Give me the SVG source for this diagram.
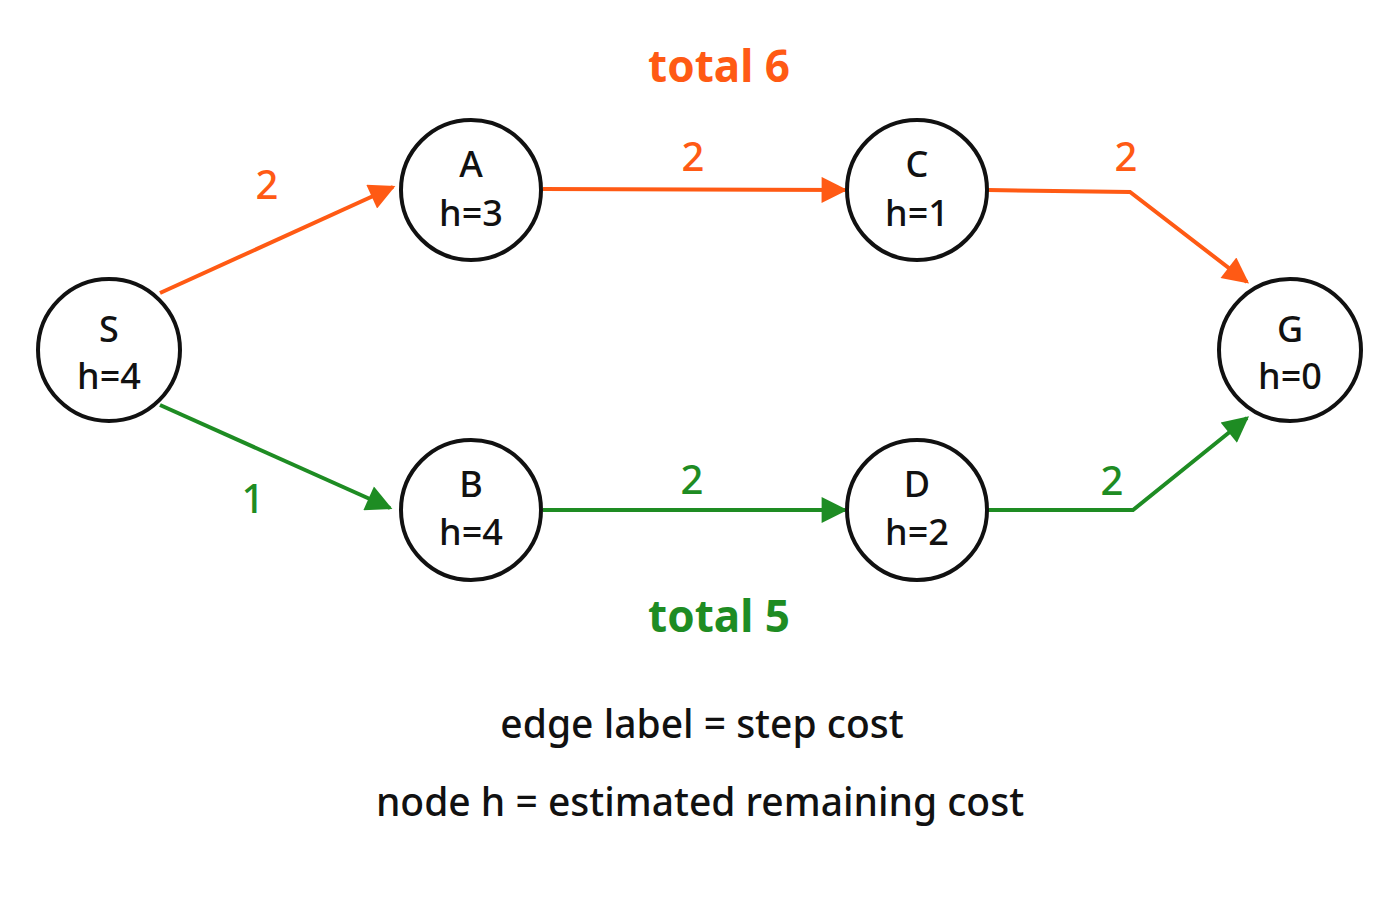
<svg xmlns="http://www.w3.org/2000/svg" width="1400" height="900" viewBox="0 0 1400 900">
<style>
text{font-family:"Noto Sans","DejaVu Sans",sans-serif;text-anchor:middle;font-weight:500}
.n circle{fill:#fff;stroke:#111;stroke-width:4}
.n text{font-size:36px;fill:#111}
.o{stroke:#FF5A14;fill:none;stroke-width:4}
.g{stroke:#1E8C23;fill:none;stroke-width:4}
.lo{fill:#FF5A14;font-size:40px}
.lg{fill:#1E8C23;font-size:40px}
.k{fill:#111;font-size:39px}
</style>
<defs>
<marker id="ao" viewBox="0 0 10 10" refX="9" refY="5" markerWidth="32" markerHeight="26" markerUnits="userSpaceOnUse" orient="auto"><path d="M0,0L10,5L0,10z" fill="#FF5A14"/></marker>
<marker id="ag" viewBox="0 0 10 10" refX="9" refY="5" markerWidth="32" markerHeight="26" markerUnits="userSpaceOnUse" orient="auto"><path d="M0,0L10,5L0,10z" fill="#1E8C23"/></marker>
</defs>
<rect width="1400" height="900" fill="#fff"/>
<g id="connectors">
<path class="o" d="M160,293L393,187" marker-end="url(#ao)"/>
<path class="o" d="M543,189L845,190" marker-end="url(#ao)"/>
<path class="o" d="M988,190L1130,192L1247,282" marker-end="url(#ao)"/>
<path class="g" d="M160,405L390,508" marker-end="url(#ag)"/>
<path class="g" d="M543,510L845,510" marker-end="url(#ag)"/>
<path class="g" d="M988,510L1133,510L1247,418" marker-end="url(#ag)"/>
</g>
<g id="S" class="n"><circle cx="109" cy="350" r="71"/><text x="109" y="342">S</text><text x="109" y="389">h=4</text></g>
<g id="A" class="n"><circle cx="471" cy="190" r="70"/><text x="471" y="177">A</text><text x="471" y="226">h=3</text></g>
<g id="C" class="n"><circle cx="917" cy="190" r="70"/><text x="917" y="177">C</text><text x="917" y="226">h=1</text></g>
<g id="G" class="n"><circle cx="1290" cy="350" r="71"/><text x="1290" y="342">G</text><text x="1290" y="389">h=0</text></g>
<g id="B" class="n"><circle cx="471" cy="510" r="70"/><text x="471" y="497">B</text><text x="471" y="545">h=4</text></g>
<g id="D" class="n"><circle cx="917" cy="510" r="70"/><text x="917" y="497">D</text><text x="917" y="545">h=2</text></g>
<g id="labels">
<text class="lo" x="267" y="199">2</text>
<text class="lo" x="693" y="171">2</text>
<text class="lo" x="1126" y="171">2</text>
<text class="lo" x="719" y="82" style="font-size:44px;font-weight:bold">total 6</text>
<text class="lg" x="253" y="513">1</text>
<text class="lg" x="692" y="494">2</text>
<text class="lg" x="1112" y="495">2</text>
<text class="lg" x="719" y="632" style="font-size:44px;font-weight:bold">total 5</text>
<text class="k" x="702" y="738">edge label = step cost</text>
<text class="k" x="700" y="816">node h = estimated remaining cost</text>
</g>
</svg>
